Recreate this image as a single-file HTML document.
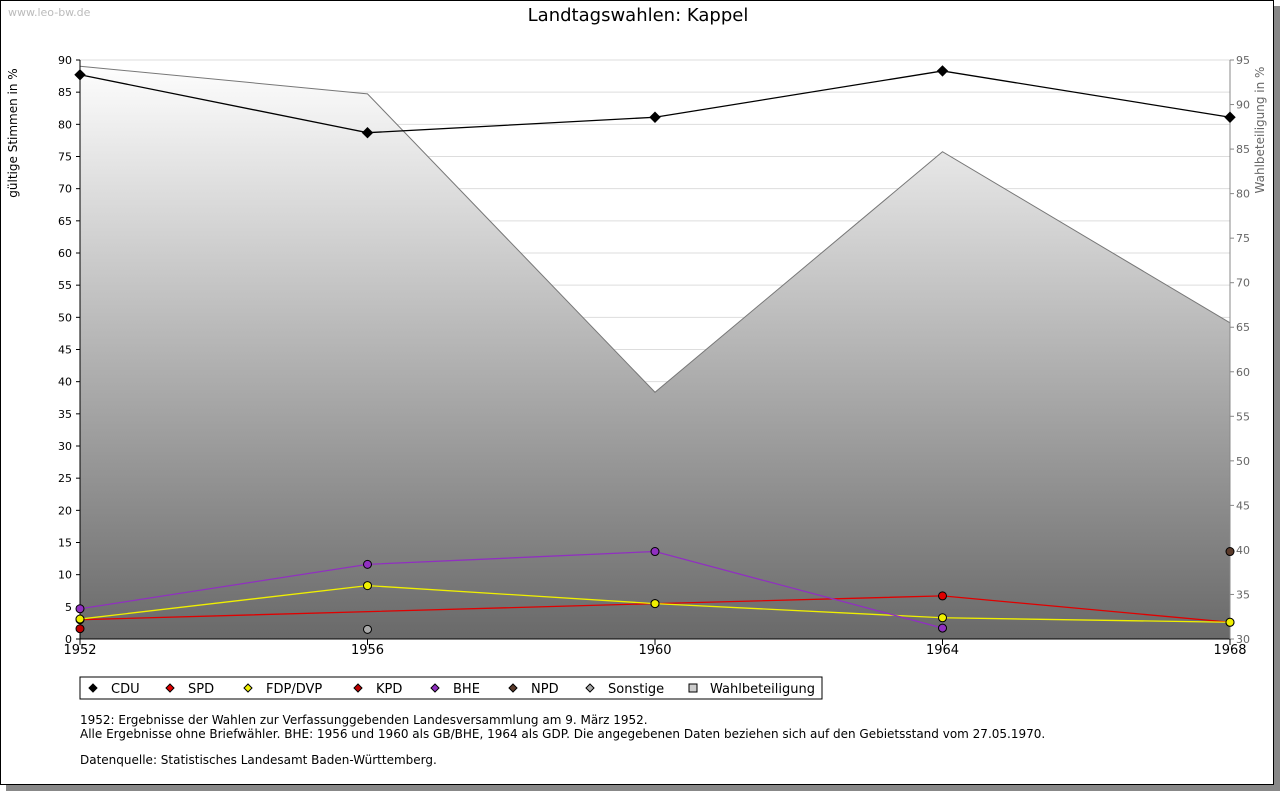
<!DOCTYPE html>
<html><head><meta charset="utf-8"><style>
body{margin:0;background:#fff;font-family:"DejaVu Sans",sans-serif}
#frame{position:absolute;left:0;top:0;width:1272px;height:783px;border:1px solid #000;box-shadow:6px 6px 0 #888;background:#fff}
</style></head><body>
<div id="frame"></div>
<svg id="c" width="1280" height="791" style="position:absolute;left:0;top:0" font-family="DejaVu Sans, sans-serif">
<defs><linearGradient id="g" x1="0" y1="60" x2="0" y2="639" gradientUnits="userSpaceOnUse"><stop offset="0" stop-color="#ffffff"/><stop offset="1" stop-color="#696969"/></linearGradient></defs>
<text x="8" y="16" font-size="11" fill="#bbb">www.leo-bw.de</text>
<text x="638" y="21" font-size="18" text-anchor="middle" fill="#000">Landtagswahlen: Kappel</text>
<text transform="translate(17,133) rotate(-90)" font-size="12" text-anchor="middle">gültige Stimmen in %</text>
<text transform="translate(1264,130) rotate(-90)" font-size="12" text-anchor="middle" fill="#666">Wahlbeteiligung in %</text>
<g id="grid"></g><g id="area"></g><g id="axes"></g><g id="lines"></g>
<g>
<rect x="80" y="677" width="742" height="22" fill="#fff" stroke="#000"/>
<g id="leg"></g></g>
<text font-size="12"><tspan x="80" y="724">1952: Ergebnisse der Wahlen zur Verfassunggebenden Landesversammlung am 9. März 1952.</tspan><tspan x="80" y="738">Alle Ergebnisse ohne Briefwähler. BHE: 1956 und 1960 als GB/BHE, 1964 als GDP. Die angegebenen Daten beziehen sich auf den Gebietsstand vom 27.05.1970.</tspan><tspan x="80" y="764">Datenquelle: Statistisches Landesamt Baden-Württemberg.</tspan></text>
</svg>
<script>
const years=[1952,1956,1960,1964,1968];
const turnout=[94.3,91.2,57.7,84.7,65.5];
const cdu=[87.7,78.7,81.1,88.3,81.1];
const spd=[3.0,null,5.5,6.7,2.6];
const fdp=[3.1,8.3,5.5,3.3,2.6];
const kpd=[1.6,null,null,null,null];
const bhe=[4.7,11.6,13.6,1.7,null];
const npd=[null,null,null,null,13.6];
const sonst=[null,1.5,null,null,null];
const leftTicks=[0,5,10,15,20,25,30,35,40,45,50,55,60,65,70,75,80,85,90];
const rightTicks=[30,35,40,45,50,55,60,65,70,75,80,85,90,95];
const X=y=>80+(y-1952)/16*1150, Y=v=>639-v/90*579, Y2=v=>639-(v-30)/65*579;
const NS='http://www.w3.org/2000/svg';
function mk(p,t,a){const e=document.createElementNS(NS,t);for(const k in a)e.setAttribute(k,a[k]);p.appendChild(e);return e;}
const grid=document.getElementById('grid'),axes=document.getElementById('axes'),area=document.getElementById('area'),lines=document.getElementById('lines');
mk(grid,'rect',{x:80,y:60,width:1150,height:579,fill:'#fff'});
leftTicks.forEach(t=>{if(t>0){const l=mk(grid,'line',{x1:80,x2:1230,y1:Y(t),y2:Y(t),stroke:'#ddd'});}
const tx=mk(axes,'text',{x:72,y:Y(t)+4,'font-size':11,'text-anchor':'end'});tx.textContent=t;

mk(axes,'line',{x1:76,x2:80,y1:Y(t),y2:Y(t),stroke:'#000'});});
rightTicks.forEach(t=>{const tx=mk(axes,'text',{x:1236,y:Y2(t)+4,'font-size':11,fill:'#666'});tx.textContent=t;

mk(axes,'line',{x1:1230,x2:1234,y1:Y2(t),y2:Y2(t),stroke:'#888'});});
let pts=years.map((y,i)=>X(y)+','+Y2(turnout[i]));
const ar=mk(area,'polygon',{points:'80,639 '+pts.join(' ')+' 1230,639',fill:'url(#g)'});

mk(area,'polyline',{points:pts.join(' '),fill:'none',stroke:'#777'});
mk(axes,'line',{x1:80,x2:80,y1:60,y2:639,stroke:'#000'});
mk(axes,'line',{x1:80,x2:1230,y1:639,y2:639,stroke:'#000'});
mk(axes,'line',{x1:1230,x2:1230,y1:60,y2:639,stroke:'#888'});
years.forEach(y=>{mk(axes,'line',{x1:X(y),x2:X(y),y1:639,y2:645,stroke:'#000'});
const tx=mk(axes,'text',{x:X(y),y:654,'font-size':13,'text-anchor':'middle'});tx.textContent=y;
});
const series=[['cdu',cdu,'#000','CDU'],['spd',spd,'#e00000','SPD'],['fdp',fdp,'#f0f000','FDP/DVP'],['kpd',kpd,'#c00000','KPD'],['bhe',bhe,'#9030c0','BHE'],['npd',npd,'#5a3a2a','NPD'],['sonstige',sonst,'#aaa','Sonstige']];
series.forEach(([n,d,c])=>{const p=[];d.forEach((v,i)=>{if(v!=null)p.push(X(years[i])+','+Y(v));});
if(p.length>1){const l=mk(lines,'polyline',{points:p.join(' '),fill:'none',stroke:c,'stroke-width':1.3});}});
series.forEach(([n,d,c])=>{d.forEach((v,i)=>{if(v==null)return;const cx=X(years[i]),cy=Y(v);
const m=n==='cdu'?mk(lines,'polygon',{points:`${cx},${cy-5} ${cx+5},${cy} ${cx},${cy+5} ${cx-5},${cy}`,fill:c,stroke:'#000'}):mk(lines,'circle',{cx:cx,cy:cy,r:4,fill:c,stroke:'#000'});
});});
const leg=document.getElementById('leg');
const lx=[93,170,248,358,435,513,590];
series.forEach(([n,d,c,lab],i)=>{const m=mk(leg,'polygon',{points:`${lx[i]},684 ${lx[i]+4},688 ${lx[i]},692 ${lx[i]-4},688`,fill:c,stroke:'#000'});

const t=mk(leg,'text',{x:lx[i]+18,y:693,'font-size':13});t.textContent=lab;});
const r=mk(leg,'rect',{x:689,y:684,width:8,height:8,fill:'#ccc',stroke:'#000'});

const t=mk(leg,'text',{x:710,y:693,'font-size':13});t.textContent='Wahlbeteiligung';
</script>
</body></html>
